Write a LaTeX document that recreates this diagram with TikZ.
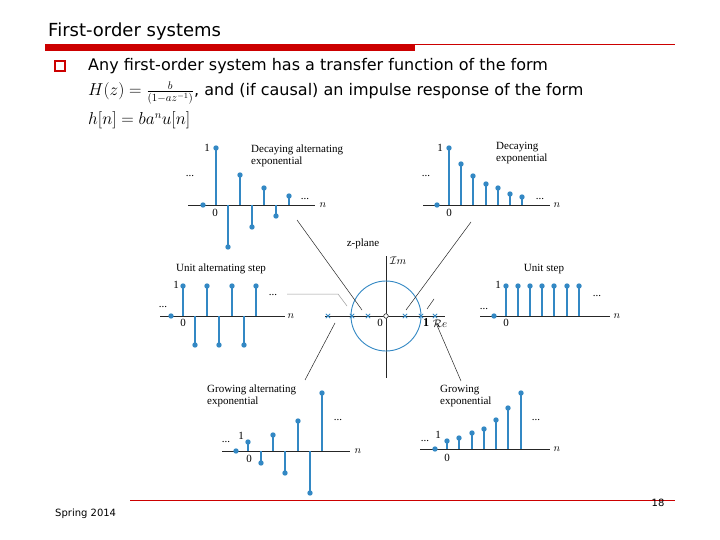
\documentclass[tikz,border=0pt]{standalone}
\usepackage{fontspec}
\setmainfont{DejaVu Sans}
\newfontfamily\figfont{Liberation Serif}
\definecolor{stemc}{RGB}{51,136,196}
\definecolor{slidered}{RGB}{204,0,0}
\begin{document}
\begin{tikzpicture}[x=1pt,y=-1pt,
  stem/.style={stemc,line width=1.6pt},
  dot/.style={fill=stemc,draw=none},
  ax/.style={line width=0.7pt,black!85},
  lbl/.style={font=\figfont\fontsize{11}{12}\selectfont,inner sep=0pt,align=left},
  slide/.style={font=\fontsize{16}{18}\selectfont,inner sep=0pt,anchor=west},
  conn/.style={line width=0.5pt,black!85}]
\useasboundingbox (0,0) rectangle (720,540);
\fill[white] (0,0) rectangle (720,540);
% header
\node[slide,font=\fontsize{18}{20}\selectfont] (title) at (48,32) {First-order systems};
\fill[slidered] (45,44) rectangle (415,51);
\draw[slidered,line width=0.6pt] (415,44.5) -- (675,44.5);
\draw[slidered,line width=1.6pt] (55,61) rectangle (65,71);
\node[slide] (l1) at (88,66) {Any first-order system has a transfer function of the form};
\node[slide] (l2) at (88,93) {$H(z)=\frac{b}{(1-az^{-1})}$, and (if causal) an impulse response of the form};
\node[slide] (l3) at (88,120) {$h[n]=ba^n u[n]$};
% figure background
\fill[white] (130,133) rectangle (620,498);
% footer
\draw[slidered,line width=0.6pt] (130,500) -- (675,500);
\node[inner sep=0pt,anchor=west,font=\fontsize{10}{12}\selectfont] (foot) at (55,514) {Spring 2014};
\node[inner sep=0pt,font=\fontsize{10}{12}\selectfont] (pg) at (658,503) {18};
\newcommand{\stm}[3]{\draw[stem] (#1,#2) -- (#1,#3); \fill[dot] (#1,#3) circle (2.7);}
% --- decaying alternating
\draw[ax] (188,205) -- (315,205);
\node[lbl] (n1) at (323,205) {$n$};
\fill[dot] (203,205) circle (2.7);
\stm{216}{205}{148}\stm{228}{205}{247}\stm{240}{205}{175}\stm{252}{205}{227}\stm{264}{205}{188}\stm{276}{205}{216}\stm{289}{205}{196}
\node[lbl] (o1) at (207,148) {1};
\node[lbl] (z1) at (215,213) {0};
\node[lbl] (d1a) at (190,176) {...};
\node[lbl] (d1b) at (305,199) {...};
\node[lbl,anchor=north west] (t1) at (251,145) {Decaying alternating\\exponential};
% --- decaying
\draw[ax] (423,205) -- (550,205);
\node[lbl] (n2) at (557,205) {$n$};
\fill[dot] (437,205) circle (2.7);
\stm{449}{205}{148}\stm{461}{205}{164}\stm{473}{205}{176}\stm{486}{205}{184}\stm{498}{205}{188}\stm{510}{205}{194}\stm{522}{205}{197}
\node[lbl] (o2) at (440,148) {1};
\node[lbl] (z2) at (449,213) {0};
\node[lbl] (d2a) at (426,176) {...};
\node[lbl] (d2b) at (540,199) {...};
\node[lbl,anchor=north west] (t2) at (496,142) {Decaying\\exponential};
% --- unit alternating step
\draw[ax] (160,316) -- (285,316);
\node[lbl] (n3) at (291,316) {$n$};
\fill[dot] (171,316) circle (2.7);
\stm{183}{316}{286}\stm{195}{316}{345}\stm{207}{316}{286}\stm{219}{316}{345}\stm{232}{316}{286}\stm{244}{316}{345}\stm{256}{316}{286}
\node[lbl] (o3) at (176,285) {1};
\node[lbl] (z3) at (183,323) {0};
\node[lbl] (d3a) at (163,307) {...};
\node[lbl] (d3b) at (273,295) {...};
\node[lbl] (t3) at (221,269) {Unit alternating step};
% --- unit step
\draw[ax] (480,316) -- (610,316);
\node[lbl] (n4) at (617,316) {$n$};
\fill[dot] (494,316) circle (2.7);
\foreach \xx in {506,518,530,542,554,567,579}{\stm{\xx}{316}{286}}
\node[lbl] (o4) at (498,285) {1};
\node[lbl] (z4) at (506,323) {0};
\node[lbl] (d4a) at (484,309) {...};
\node[lbl] (d4b) at (597,296) {...};
\node[lbl] (t4) at (544,269) {Unit step};
% --- growing alternating
\draw[ax] (222,451) -- (350,451);
\node[lbl] (n5) at (358,451) {$n$};
\fill[dot] (236,451) circle (2.7);
\stm{248}{451}{442}\stm{261}{451}{463}\stm{273}{451}{435}\stm{285}{451}{473}\stm{298}{451}{421}\stm{310}{451}{493}\stm{322}{451}{393}
\node[lbl] (o5) at (241,436) {1};
\node[lbl] (z5) at (249,459) {0};
\node[lbl] (d5a) at (226,442) {...};
\node[lbl] (d5b) at (338,420) {...};
\node[lbl,anchor=north west] (t5) at (207,385) {Growing alternating\\exponential};
% --- growing
\draw[ax] (420,449) -- (550,449);
\node[lbl] (n6) at (557,449) {$n$};
\fill[dot] (435,449) circle (2.7);
\stm{447}{449}{441}\stm{459}{449}{438}\stm{472}{449}{433}\stm{484}{449}{429}\stm{496}{449}{420}\stm{508}{449}{408}\stm{521}{449}{393}
\node[lbl] (o6) at (438,435) {1};
\node[lbl] (z6) at (447,458) {0};
\node[lbl] (d6a) at (425,441) {...};
\node[lbl] (d6b) at (536,420) {...};
\node[lbl,anchor=north west] (t6) at (440,385) {Growing\\exponential};
% --- z-plane
\coordinate (O) at (386,316);
\draw[ax] (325,316) -- (445,316);
\draw[ax] (386,256) -- (386,378);
\draw[stemc,line width=0.9pt] (O) circle (35);
\draw[white,fill=white] (O) circle (2.3); \draw[black,line width=0.5pt] (O) circle (2.3);
\foreach[count=\i] \xx in {328,352,368,405,421,435}{
  \draw[stemc,line width=0.8pt] (\xx-2.2,313.8) -- (\xx+2.2,318.2) (\xx-2.2,318.2) -- (\xx+2.2,313.8);
  \coordinate (p\i) at (\xx,316);}
\node[lbl] (zp) at (363,244) {z-plane};
\node[lbl] (im) at (398,261) {$\mathcal{I}m$};
\node[lbl] (z0) at (380,323) {0};
\node[lbl,font=\figfont\bfseries\fontsize{12}{13}\selectfont] (one) at (426,323) {1};
\node[lbl] (re) at (440,324) {$\mathcal{R}e$};
% connectors
\coordinate (c1) at (297,220); \coordinate (c1e) at (362,310);
\draw[conn] (c1) -- (c1e);
\coordinate (c2) at (471,222); \coordinate (c2e) at (406,310);
\draw[conn] (c2) -- (c2e);
\coordinate (c3) at (287,294); \coordinate (c3m) at (338,294); \coordinate (c3e) at (347,306);
\draw[conn,black!40] (c3) -- (c3m) -- (c3e);
\coordinate (c4) at (434,299); \coordinate (c4e) at (427,309);
\draw[conn] (c4) -- (c4e);
\coordinate (c5) at (335,323); \coordinate (c5e) at (305,380);
\draw[conn] (c5) -- (c5e);
\coordinate (c6) at (436,323); \coordinate (c6e) at (461,381);
\draw[conn] (c6) -- (c6e);
\end{tikzpicture}
\end{document}
